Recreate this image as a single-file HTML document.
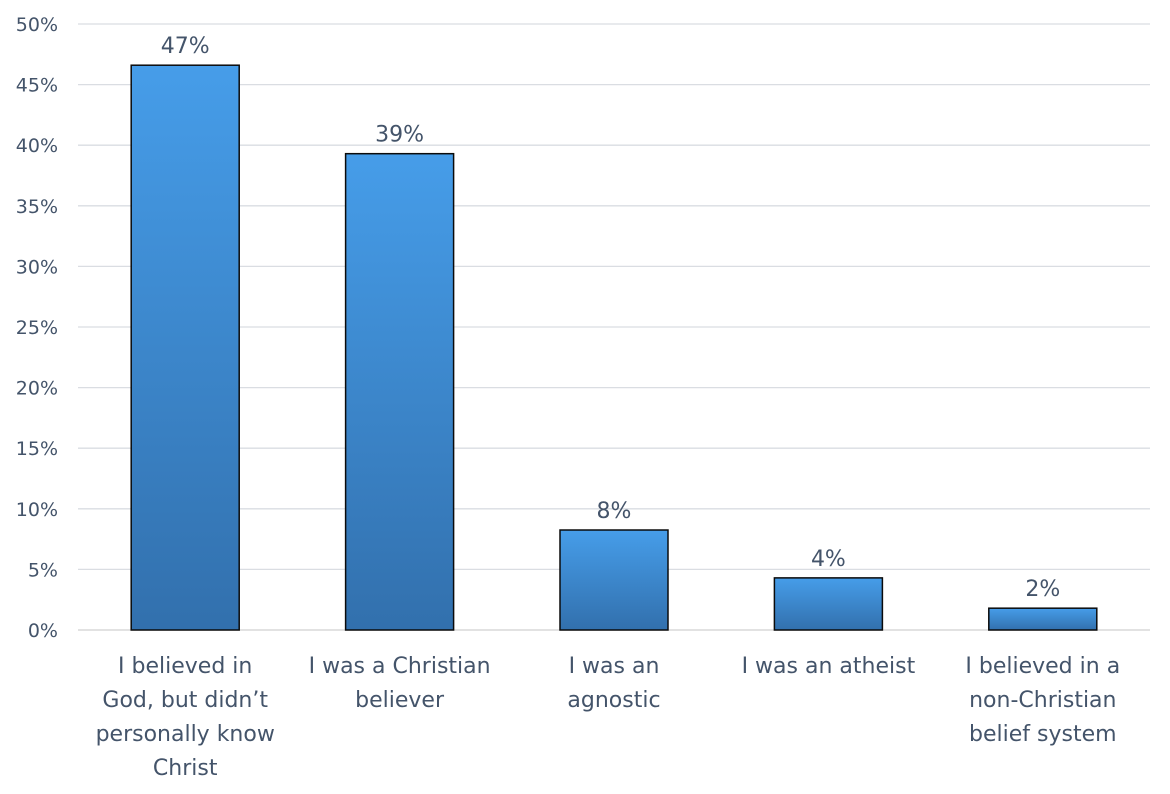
<!DOCTYPE html>
<html><head><meta charset="utf-8"><style>
html,body{margin:0;padding:0;background:#fff;}
svg{display:block;font-family:"DejaVu Sans","Liberation Sans",sans-serif;}
</style></head><body>
<svg id="chart" width="1170" height="794">
<defs><linearGradient id="g" x1="0" y1="0" x2="0" y2="1"><stop offset="0" stop-color="#469de9"/><stop offset="1" stop-color="#3270ad"/></linearGradient></defs>
<g id="grid"></g>
<g id="yticks"></g>
<g id="bars"></g>
<g id="xlabels"></g>
</svg>
<script>
const categories=[["I believed in","God, but didn’t","personally know","Christ"],["I was a Christian","believer"],["I was an","agnostic"],["I was an atheist"],["I believed in a","non-Christian","belief system"]];
const values=[46.6,39.3,8.25,4.3,1.8];
const valueLabels=["47%","39%","8%","4%","2%"];
const yTicks=[0,5,10,15,20,25,30,35,40,45,50];
const NS="http://www.w3.org/2000/svg";
const x0=78,x1=1150,y0=630,yTop=24,yMax=50;
const y=v=>y0-(v/yMax)*(y0-yTop);
const bw=(x1-x0)/categories.length;
const xc=i=>x0+bw*(i+0.5);
function mk(t,a,p){const e=document.createElementNS(NS,t);for(const k in a)e.setAttribute(k,a[k]);p.appendChild(e);return e;}
const grid=document.getElementById('grid'),yt=document.getElementById('yticks'),bars=document.getElementById('bars'),xl=document.getElementById('xlabels');
yTicks.forEach(t=>{
 const l=mk('line',{x1:x0,x2:x1,y1:y(t),y2:y(t),stroke:t===0?'#d0d0d0':'#dadde2','stroke-width':1.3},grid);
 
 
 const tx=mk('text',{x:58,y:y(t)+7,'text-anchor':'end','font-size':19,fill:'#44546a'},yt);
 tx.textContent=t+'%';
 
 
});
values.forEach((v,i)=>{
 const r=mk('rect',{x:xc(i)-54,y:y(v),width:108,height:y0-y(v),fill:'url(#g)',stroke:'#0b0b0b','stroke-width':1.5},bars);
 
 
 const t=mk('text',{x:xc(i),y:y(v)-12,'text-anchor':'middle','font-size':22,fill:'#44546a'},bars);
 t.textContent=valueLabels[i];
 
 
 categories[i].forEach((line,j)=>{
  const c=mk('text',{x:xc(i),y:673+j*34,'text-anchor':'middle','font-size':22,fill:'#44546a'},xl);
  c.textContent=line;
  
  
 });
});
</script>
</body></html>
